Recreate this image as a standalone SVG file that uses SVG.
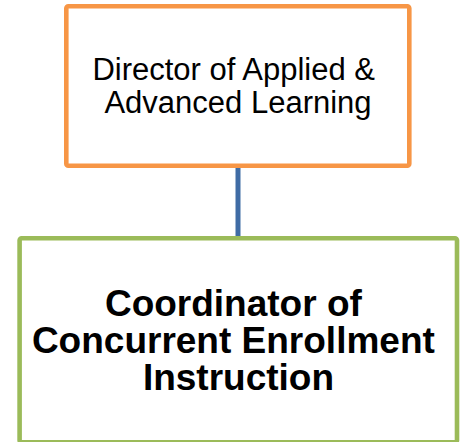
<svg xmlns="http://www.w3.org/2000/svg" width="461" height="442" viewBox="0 0 461 442">
  <style>
    .box { fill: #FFFFFF; stroke-width: 4.6; }
    .lbl { font-family: "Liberation Sans", Arial, sans-serif; fill: #000000; text-anchor: middle; }
    .conn { stroke: #3F6CA5; stroke-width: 5; fill: none; }
  </style>
  <rect width="461" height="442" fill="#FFFFFF"/>
  <g id="connectors">
    <line class="conn" x1="238" y1="166" x2="238" y2="238"/>
  </g>
  <g id="director">
    <rect class="box" x="66.3" y="6.3" width="343" height="159.5" rx="2" stroke="#F79646"/>
    <text class="lbl" font-size="31">
      <tspan x="238" y="79.5">Director of Applied &amp;</tspan>
      <tspan x="238" y="112.5">Advanced Learning</tspan>
    </text>
  </g>
  <g id="coordinator">
    <rect class="box" x="19.6" y="238.3" width="437.4" height="204" rx="2" stroke="#9BBB59"/>
    <text class="lbl" font-size="37" font-weight="bold">
      <tspan x="238.5" y="316">Coordinator of</tspan>
      <tspan x="238.5" y="353">Concurrent Enrollment</tspan>
      <tspan x="238.5" y="390">Instruction</tspan>
    </text>
  </g>
</svg>
